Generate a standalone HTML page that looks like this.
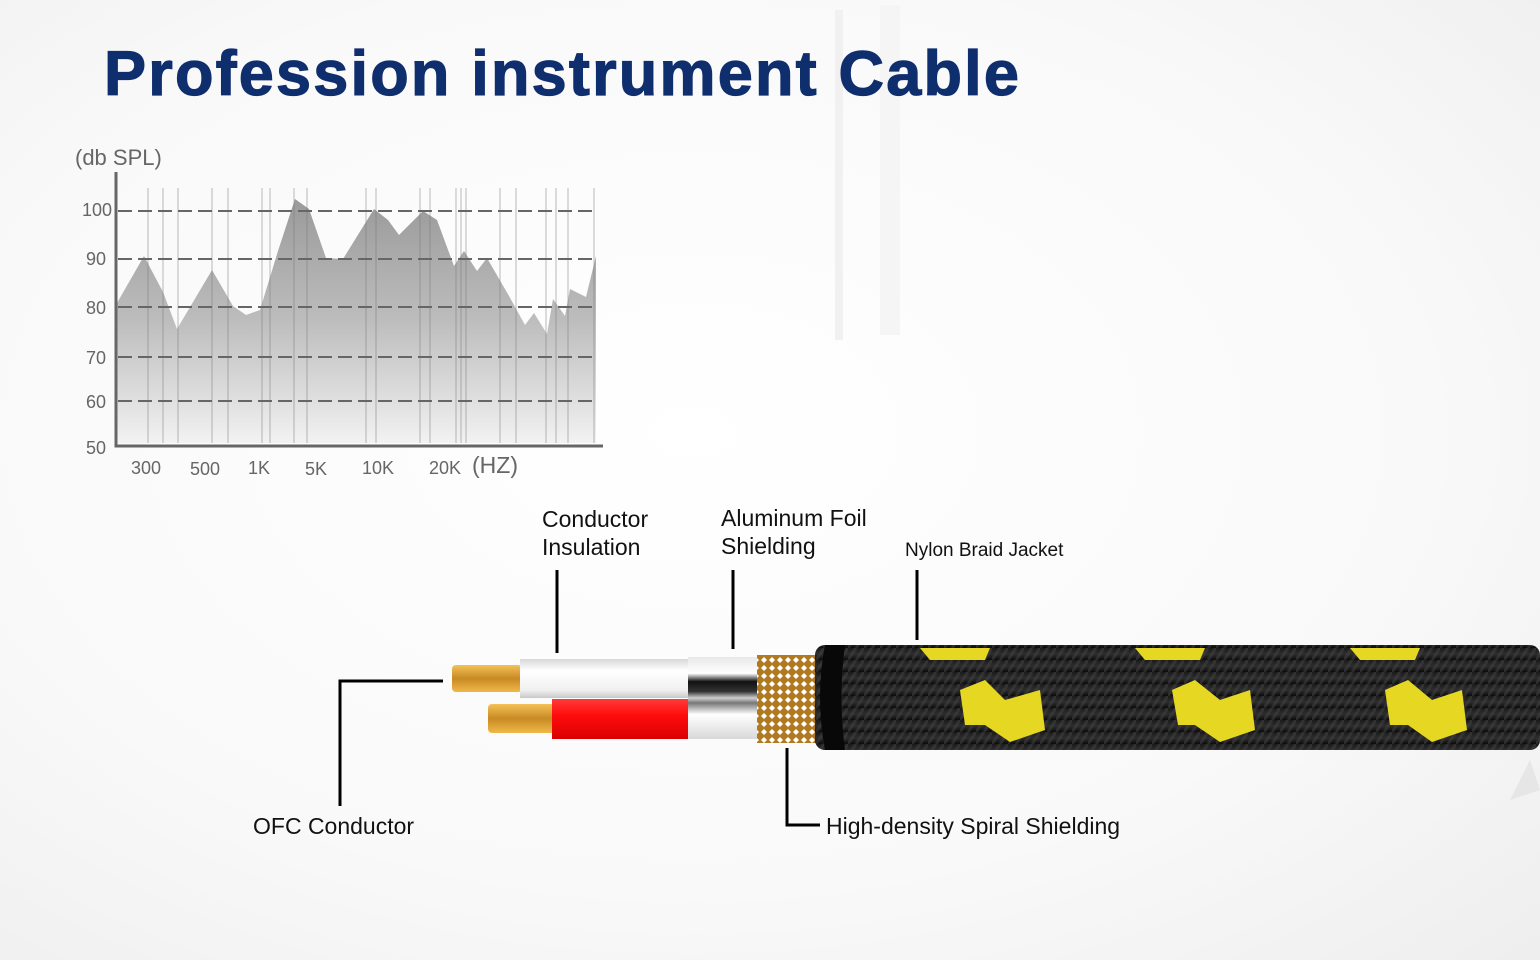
<!DOCTYPE html>
<html><head><meta charset="utf-8"><style>
html,body{margin:0;padding:0;width:1540px;height:960px;overflow:hidden;background:#fff}
svg{display:block}
</style></head><body>
<svg width="1540" height="960" viewBox="0 0 1540 960" xmlns="http://www.w3.org/2000/svg">
<defs>
<radialGradient id="bg" cx="0.45" cy="0.45" r="0.8">
<stop offset="0" stop-color="#ffffff"/><stop offset="0.6" stop-color="#f9f9f9"/><stop offset="1" stop-color="#ededed"/>
</radialGradient>
<linearGradient id="area" x1="0" y1="0" x2="0" y2="1">
<stop offset="0" stop-color="#9a9a9a"/><stop offset="0.5" stop-color="#bdbdbd"/><stop offset="1" stop-color="#f2f2f2"/>
</linearGradient>
<linearGradient id="copper" x1="0" y1="0" x2="0" y2="1">
<stop offset="0" stop-color="#f3c257"/><stop offset="0.5" stop-color="#c88a24"/><stop offset="1" stop-color="#f0b84a"/>
</linearGradient>
<linearGradient id="white" x1="0" y1="0" x2="0" y2="1">
<stop offset="0" stop-color="#d8d8d8"/><stop offset="0.3" stop-color="#ffffff"/><stop offset="0.8" stop-color="#f0f0f0"/><stop offset="1" stop-color="#c8c8c8"/>
</linearGradient>
<linearGradient id="red" x1="0" y1="0" x2="0" y2="1">
<stop offset="0" stop-color="#ff3a3a"/><stop offset="0.4" stop-color="#ff0d0d"/><stop offset="1" stop-color="#d90000"/>
</linearGradient>
<linearGradient id="foil" x1="0" y1="0" x2="0" y2="1">
<stop offset="0" stop-color="#e8e8e8"/><stop offset="0.2" stop-color="#ffffff"/><stop offset="0.3" stop-color="#111"/><stop offset="0.42" stop-color="#333"/><stop offset="0.5" stop-color="#cfcfcf"/><stop offset="0.56" stop-color="#777"/><stop offset="0.7" stop-color="#fff"/><stop offset="1" stop-color="#d8d8d8"/>
</linearGradient>
<linearGradient id="jacket" x1="0" y1="0" x2="0" y2="1">
<stop offset="0" stop-color="#1a1a1a"/><stop offset="0.5" stop-color="#2e2e2e"/><stop offset="1" stop-color="#0c0c0c"/>
</linearGradient>
<pattern id="mesh" width="8" height="8" patternUnits="userSpaceOnUse">
<rect width="8" height="8" fill="#b07a22"/>
<path d="M4 1 L7 4 L4 7 L1 4 Z" fill="#fff"/>
</pattern>
<pattern id="weave" width="16" height="12" patternUnits="userSpaceOnUse">
<rect width="16" height="12" fill="url(#jacket)"/>
<path d="M0 12 L8 0 M8 12 L16 0" stroke="#444" stroke-width="3" opacity="0.5"/>
</pattern>
</defs>
<rect width="1540" height="960" fill="url(#bg)"/>
<rect x="835" y="10" width="8" height="330" fill="#f1f1f1"/>
<rect x="880" y="5" width="20" height="330" fill="#f5f5f5"/>
<path d="M1530 760 L1510 800 L1540 790 Z" fill="#e6e6e6"/>

<text x="104" y="95" font-family="Liberation Sans, sans-serif" font-weight="bold" font-size="63" fill="#0f2e6e" letter-spacing="2.2" stroke="#0f2e6e" stroke-width="1.2">Profession instrument Cable</text>

<g font-family="Liberation Sans, sans-serif" fill="#666">
<text x="75" y="165" font-size="22">(db SPL)</text>
<text x="82" y="216" font-size="18">100</text>
<text x="86" y="265" font-size="18">90</text>
<text x="86" y="314" font-size="18">80</text>
<text x="86" y="364" font-size="18">70</text>
<text x="86" y="408" font-size="18">60</text>
<text x="86" y="454" font-size="18">50</text>
<text x="131" y="474" font-size="18">300</text>
<text x="190" y="475" font-size="18">500</text>
<text x="248" y="474" font-size="18">1K</text>
<text x="305" y="475" font-size="18">5K</text>
<text x="362" y="474" font-size="18">10K</text>
<text x="429" y="474" font-size="18">20K</text>
<text x="472" y="473" font-size="23">(HZ)</text>
</g>
<path d="M117 303 L144 256 L163 292 L177 329 L212 270 L233 306 L246 315 L260 310 L278 251 L295 199 L309 209 L326 258 L343 259 L374 209 L388 220 L399 235 L423 211 L437 220 L454 266 L464 251 L477 271 L487 258 L509 296 L525 325 L534 313 L547 334 L553 299 L565 316 L570 289 L586 297 L596 256 L596 443 L117 443 Z" fill="url(#area)"/>
<g stroke="#777" stroke-width="1" opacity="0.5">
<path d="M148 188V443M163 188V443M178 188V443M212 188V443M228 188V443M262 188V443M270 188V443M294 188V443M307 188V443M366 188V443M376 188V443M420 188V443M430 188V443M456 188V443M461 188V443M466 188V443M500 188V443M516 188V443M546 188V443M556 188V443M568 188V443M594 188V443"/>
</g>
<g stroke="#666" stroke-width="2" stroke-dasharray="14 6">
<path d="M118 211H597M118 259H597M118 307H597M118 357H597M118 401H597"/>
</g>
<path d="M116 172V446H603" stroke="#666" stroke-width="3" fill="none"/>

<rect x="452" y="665" width="70" height="27" rx="4" fill="url(#copper)"/>
<rect x="488" y="704" width="68" height="29" rx="4" fill="url(#copper)"/>
<rect x="520" y="659" width="170" height="39" fill="url(#white)"/>
<rect x="552" y="699" width="138" height="40" fill="url(#red)"/>
<rect x="688" y="657" width="72" height="82" fill="url(#foil)"/>
<rect x="757" y="655" width="64" height="88" fill="url(#mesh)"/>
<rect x="815" y="645" width="725" height="105" rx="10" fill="url(#weave)"/>
<path d="M825 645 Q815 697 825 750 L845 750 Q838 697 845 645 Z" fill="#080808"/>
<g fill="#e6d822">
<path d="M960 690 L985 680 L1005 700 L1040 690 L1045 730 L1010 742 L985 725 L965 725 Z"/>
<path d="M1172 690 L1195 680 L1220 700 L1250 690 L1255 730 L1220 742 L1195 725 L1178 725 Z"/>
<path d="M1385 690 L1408 680 L1432 700 L1462 690 L1467 730 L1432 742 L1408 725 L1390 725 Z"/>
<path d="M920 648 L990 648 L985 660 L930 660 Z"/>
<path d="M1135 648 L1205 648 L1200 660 L1145 660 Z"/>
<path d="M1350 648 L1420 648 L1415 660 L1360 660 Z"/>
</g>

<g stroke="#000" stroke-width="3" fill="none">
<path d="M443 681H340V806"/>
<path d="M557 570V653"/>
<path d="M733 570V649"/>
<path d="M917 570V640"/>
<path d="M787 748V825H820"/>
</g>
<g font-family="Liberation Sans, sans-serif" fill="#111" font-size="23">
<text x="542" y="527">Conductor</text>
<text x="542" y="555">Insulation</text>
<text x="721" y="526">Aluminum Foil</text>
<text x="721" y="554">Shielding</text>
<text x="905" y="556" font-size="19">Nylon Braid Jacket</text>
<text x="253" y="834">OFC Conductor</text>
<text x="826" y="834">High-density Spiral Shielding</text>
</g>
</svg>
</body></html>
